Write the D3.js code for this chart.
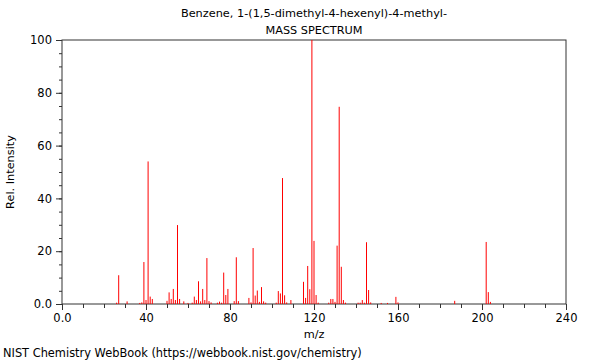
<!DOCTYPE html>
<html>
<head>
<meta charset="utf-8">
<script src="https://cdn.jsdelivr.net/npm/d3@7"></script>
<style>
	body { margin: 0; background: #fff; }
	text { font-family: "DejaVu Sans", sans-serif; }
</style>
</head>
<body>
<div id="spec-box"></div>
<script>
// m/z values of the peaks
const mzValues = [26, 27, 31, 37, 38, 39, 40, 41, 42, 43,
	50, 51, 52, 53, 54, 55, 56, 58, 60, 62, 63, 64, 65, 66, 67, 68, 69, 70, 71,
	74, 75, 76, 77, 78, 79, 82, 83, 84, 89, 90, 91, 92, 93, 94, 95, 96, 97,
	102, 103, 104, 105, 106, 107, 109, 115, 116, 117, 118, 119, 120, 121, 122,
	127, 128, 129, 130, 131, 132, 133, 134, 135, 141, 142, 143, 144, 145, 146, 147,
	152, 155, 159, 160, 187, 202, 203, 204];
// relative intensity for each m/z
const intensities = [0.5, 10.9, 1.0, 0.4, 0.6, 15.9, 1.5, 54.0, 2.8, 1.9,
	1.2, 4.4, 1.9, 5.7, 1.5, 29.9, 1.9, 1.0, 0.4, 0.5, 2.8, 1.5, 8.6, 1.0, 5.7, 1.5, 17.4, 1.1, 0.6,
	0.5, 0.9, 0.5, 11.9, 3.4, 5.7, 1.1, 17.7, 1.1, 2.3, 0.6, 21.2, 3.2, 5.1, 0.8, 6.4, 1.0, 0.5,
	0.5, 4.9, 4.0, 47.7, 3.3, 0.6, 1.5, 8.4, 2.3, 14.4, 5.6, 100, 23.9, 3.4, 0.5,
	0.5, 1.9, 1.9, 0.8, 22.1, 74.7, 14.1, 1.5, 0.5, 0.5, 0.5, 1.5, 0.5, 23.4, 5.3, 0.6,
	0.4, 0.4, 2.7, 0.6, 1.2, 23.5, 4.5, 0.8];
// tick labels
const xTickValues = [0, 40, 80, 120, 160, 200, 240];
const xTickLabels = ["0.0", "40", "80", "120", "160", "200", "240"];
const yTickValues = [0, 20, 40, 60, 80, 100];
const yTickLabels = ["0.0", "20", "40", "60", "80", "100"];
const titleLines = ["Benzene, 1-(1,5-dimethyl-4-hexenyl)-4-methyl-", "MASS SPECTRUM"];

const spectrum =
{
	draw: function ()
	{
		const w = 600;
		const h = 360;
		const left = 62, right = 566, top = 40, bottom = 304;
		const peaks = mzValues.map((m, i) => ({mz: m, rel: intensities[i]}));

		const svg = d3.select("#spec-box")
		.append("svg")
		.attr("width", w)
		.attr("height", h);

		const xScale = d3.scaleLinear().domain([0, 240]).range([left, right]);
		const yScale = d3.scaleLinear().domain([0, 100]).range([bottom, top]);

		// frame
		svg.append("rect")
		.attr("x", left)
		.attr("y", top)
		.attr("width", right - left)
		.attr("height", bottom - top)
		.attr("fill", "none")
		.attr("stroke", "#333")
		.attr("stroke-width", 1);

		// peaks
		svg.selectAll("line.peak")
		.data(peaks)
		.enter()
		.append("line")
		.attr("class", "peak")
		.attr("x1", (d) => xScale(d.mz))
		.attr("x2", (d) => xScale(d.mz))
		.attr("y1", yScale(0))
		.attr("y2", (d) => yScale(d.rel))
		.attr("stroke", "#ff0000")
		.attr("stroke-width", 1);

		// x axis, minor then major
		svg.append("g")
		.attr("transform", "translate(0," + bottom + ")")
		.call(d3.axisBottom(xScale).tickValues(d3.range(0, 241, 10)).tickSize(4).tickFormat(""))
		.call(g => g.select(".domain").remove());
		svg.append("g")
		.attr("id", "x-axis")
		.attr("transform", "translate(0," + bottom + ")")
		.call(d3.axisBottom(xScale).tickValues(xTickValues).tickSize(6).tickPadding(4)
			.tickFormat((d, i) => xTickLabels[i]))
		.call(g => g.select(".domain").remove());

		// y axis, minor then major
		svg.append("g")
		.attr("transform", "translate(" + left + ",0)")
		.call(d3.axisLeft(yScale).tickValues(d3.range(0, 101, 5)).tickSize(3).tickFormat(""))
		.call(g => g.select(".domain").remove());
		svg.append("g")
		.attr("id", "y-axis")
		.attr("transform", "translate(" + left + ",0)")
		.call(d3.axisLeft(yScale).tickValues(yTickValues).tickSize(6).tickPadding(4)
			.tickFormat((d, i) => yTickLabels[i]))
		.call(g => g.select(".domain").remove());

		svg.selectAll(".tick line").attr("stroke", "#333");
		svg.selectAll(".tick text")
		.attr("fill", "#000")
		.style("font-family", "DejaVu Sans")
		.style("font-size", "11.5px");

		// titles
		svg.selectAll("text.title")
		.data(titleLines)
		.enter()
		.append("text")
		.attr("class", "title")
		.attr("x", (left + right) / 2)
		.attr("y", (d, i) => 17 + i * 17)
		.attr("text-anchor", "middle")
		.style("font-size", "11.3px")
		.text((d) => d);

		svg.append("text")
		.attr("x", (left + right) / 2)
		.attr("y", 338)
		.attr("text-anchor", "middle")
		.style("font-size", "11.3px")
		.text("m/z");

		svg.append("text")
		.attr("transform", "translate(14," + (top + bottom) / 2 + ") rotate(-90)")
		.attr("text-anchor", "middle")
		.style("font-size", "11.3px")
		.text("Rel. Intensity");

		svg.append("text")
		.attr("x", 3)
		.attr("y", 357)
		.style("font-size", "11.4px")
		.text("NIST Chemistry WebBook (https://webbook.nist.gov/chemistry)");
	}
};

document.addEventListener("DOMContentLoaded", function ()
{
	spectrum.draw();
});
</script>
</body>
</html>
